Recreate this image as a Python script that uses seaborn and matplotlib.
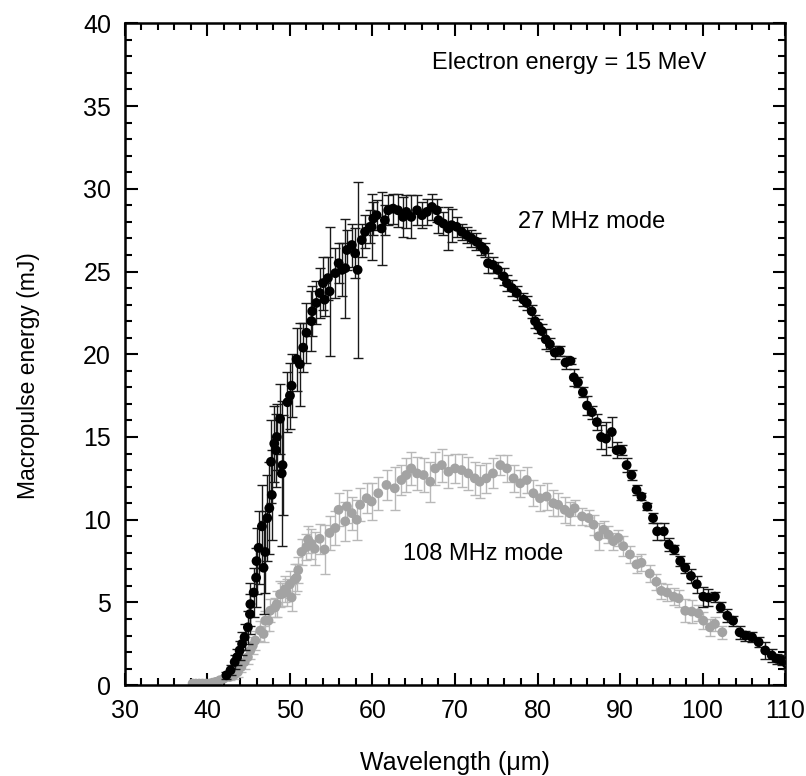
import numpy as np
import pandas as pd
import matplotlib
matplotlib.use("Agg")
from matplotlib import pyplot as plt
from matplotlib.ticker import MultipleLocator
import seaborn as sns

# 27 MHz mode (black)
wl_27 = [42.3, 42.8, 43.3, 43.6, 43.9, 44.2, 44.5, 44.9, 45.15, 45.2, 45.6, 45.9, 45.95, 46.2, 46.6,
         46.8, 47.0, 47.25, 47.5, 47.7, 47.8, 48.1, 48.3, 48.4, 48.8, 49.0, 49.1, 49.7, 50.0, 50.2,
         50.8, 51.2, 51.6, 52.0, 52.6, 52.7, 53.2, 53.6, 54.0, 54.2, 54.6, 54.8, 55.5, 55.9, 56.3,
         56.7, 56.9, 57.5, 57.9, 58.2, 58.7, 59.1, 59.7, 59.9, 60.1, 60.5, 61.1, 61.5, 61.9, 62.5,
         63.1, 63.7, 64.1, 64.7, 65.4, 66.0, 66.6, 67.2, 67.8, 68.0, 68.6, 69.2, 69.6, 70.2, 70.8,
         71.4, 72.0, 72.6, 73.2, 73.6, 74.0, 74.6, 75.2, 75.9, 76.3, 76.9, 77.5, 78.3, 78.7, 79.3,
         79.7, 80.1, 80.5, 81.0, 81.5, 82.1, 82.7, 83.4, 84.0, 84.4, 84.9, 85.5, 86.0, 86.6, 87.2,
         87.7, 88.3, 89.0, 89.6, 90.2, 90.8, 91.4, 92.0, 92.6, 93.3, 94.0, 94.5, 95.3, 95.9, 96.6,
         97.3, 97.9, 98.6, 99.3, 100.1, 100.7, 101.5, 102.2, 103.0, 103.7, 104.5, 105.2, 106.0, 106.8, 107.6,
         108.4, 109.0, 109.6, 110.2]
en_27 = [0.6, 0.9, 1.4, 1.7, 2.1, 2.5, 2.9, 3.5, 4.3, 4.9, 5.6, 6.5, 7.5, 8.3, 9.6,
         7.1, 8.05, 10.1, 10.7, 13.5, 11.5, 14.6, 14.2, 15.0, 16.1, 12.8, 13.3, 17.1, 17.5, 18.1,
         19.7, 19.4, 20.4, 21.3, 22.0, 22.6, 23.1, 23.7, 24.3, 23.3, 24.6, 23.8, 24.9, 25.5, 25.1,
         25.2, 26.3, 26.6, 26.1, 25.1, 26.9, 27.4, 27.7, 27.7, 28.2, 28.4, 27.6, 28.1, 28.7, 28.8,
         28.7, 28.3, 28.6, 28.3, 28.7, 28.4, 28.6, 28.9, 28.7, 28.1, 27.9, 27.6, 27.8, 27.7, 27.4,
         27.2, 27.0, 26.8, 26.5, 26.3, 25.5, 25.4, 25.1, 24.7, 24.3, 24.0, 23.7, 23.3, 23.1, 22.6,
         22.0, 21.7, 21.4, 20.9, 20.6, 20.1, 20.2, 19.5, 19.6, 18.6, 18.3, 17.7, 16.9, 16.5, 15.9,
         15.0, 14.9, 15.3, 14.2, 14.2, 13.3, 12.7, 11.8, 11.4, 10.8, 10.1, 9.3, 9.3, 8.5, 8.2,
         7.5, 7.1, 6.6, 6.1, 5.35, 5.3, 5.35, 4.7, 4.2, 3.9, 3.2, 3.0, 2.9, 2.6, 2.1,
         1.8, 1.6, 1.5, 1.3]
err_27 = [0.2, 0.3, 0.4, 0.5, 0.6, 0.7, 0.8, 1.0, 1.2, 1.3, 1.5, 1.8, 2.0, 2.2, 2.5,
          2.8, 2.5, 2.6, 2.8, 2.5, 2.7, 2.3, 2.2, 2.0, 2.1, 4.4, 3.0, 1.8, 2.0, 1.9,
          1.9, 2.5, 1.5, 1.8, 1.8, 1.5, 1.3, 1.5, 1.6, 1.0, 1.3, 3.9, 1.5, 1.2, 1.6,
          3.0, 1.2, 1.3, 1.5, 5.3, 1.0, 1.0, 1.0, 2.0, 1.0, 0.9, 2.2, 0.9, 0.9, 0.9,
          1.0, 1.2, 1.0, 1.3, 0.9, 0.8, 0.8, 0.8, 0.7, 0.8, 0.7, 1.3, 1.0, 0.6, 0.5,
          0.5, 0.5, 0.5, 0.5, 0.4, 0.6, 0.5, 0.5, 0.5, 0.5, 0.5, 0.4, 0.4, 0.4, 0.4,
          0.4, 0.4, 0.4, 0.6, 0.4, 0.4, 0.3, 0.4, 0.2, 0.5, 0.3, 0.3, 0.6, 0.4, 0.5,
          0.7, 1.0, 0.9, 0.5, 0.3, 0.4, 0.3, 0.3, 0.2, 0.2, 0.3, 0.5, 0.5, 0.4, 0.3,
          0.3, 0.3, 0.4, 0.5, 0.6, 0.5, 0.3, 0.3, 0.4, 0.3, 0.4, 0.3, 0.3, 0.3, 0.5,
          0.4, 0.3, 0.3, 0.3]

# 108 MHz mode (grey)
wl_108 = [38.2, 38.6, 39.0, 39.4, 39.8, 40.2, 40.6, 41.0, 41.5, 42.0, 42.7, 43.2, 43.7, 44.1, 44.5,
          44.9, 45.2, 45.5, 45.8, 46.4, 46.8, 47.0, 47.4, 47.6, 48.2, 48.4, 48.8, 49.0, 49.4, 49.6,
          50.0, 50.2, 50.6, 50.8, 51.0, 51.4, 52.0, 52.2, 52.6, 53.0, 53.6, 54.2, 54.8, 55.5, 55.9,
          56.7, 56.9, 57.5, 58.1, 58.5, 59.3, 59.9, 60.7, 61.7, 62.7, 63.5, 64.1, 64.7, 65.4, 66.2,
          67.0, 67.6, 68.4, 69.2, 70.0, 70.8, 71.6, 72.4, 73.0, 73.8, 74.6, 75.5, 76.3, 77.1, 77.9,
          78.7, 79.5, 80.3, 81.1, 81.9, 82.5, 83.3, 83.9, 84.5, 85.4, 86.2, 86.8, 87.4, 88.0, 88.6,
          89.2, 89.8, 90.4, 91.2, 92.0, 92.6, 93.6, 94.4, 95.0, 95.7, 96.5, 97.1, 97.9, 98.7, 99.5,
          100.1, 100.9, 101.5, 102.4]
en_108 = [0.1, 0.1, 0.1, 0.1, 0.1, 0.1, 0.15, 0.2, 0.3, 0.4, 0.5, 0.6, 0.8, 1.1, 1.4,
          1.7, 2.1, 2.4, 2.7, 3.3, 3.1, 3.9, 3.9, 4.5, 4.7, 4.9, 5.5, 5.5, 5.8, 5.6,
          6.1, 5.3, 6.4, 6.5, 6.95, 8.05, 8.35, 8.8, 8.55, 8.25, 8.85, 8.2, 9.2, 9.5, 10.6,
          9.9, 10.8, 10.4, 10.0, 10.9, 11.3, 11.1, 11.6, 12.1, 11.9, 12.4, 12.7, 13.1, 12.8, 12.7,
          12.3, 13.1, 13.3, 12.9, 13.1, 13.0, 12.8, 12.5, 12.3, 12.5, 12.8, 13.3, 13.1, 12.5, 12.2,
          12.4, 11.6, 11.3, 11.4, 11.0, 10.9, 10.6, 10.4, 10.7, 10.2, 10.1, 9.7, 9.0, 9.4, 9.1,
          8.7, 8.9, 8.4, 7.9, 7.3, 7.4, 6.75, 6.25, 5.7, 5.6, 5.35, 5.25, 4.5, 4.45, 4.35,
          3.9, 3.5, 3.7, 3.2]
err_108 = [0, 0, 0, 0, 0, 0, 0, 0.1, 0.1, 0.1, 0.2, 0.2, 0.3, 0.3, 0.4,
           0.4, 0.5, 0.5, 0.6, 0.6, 0.5, 0.6, 0.6, 0.7, 0.6, 0.8, 0.8, 0.7, 0.8, 0.8,
           0.8, 0.8, 0.9, 0.8, 0.8, 0.8, 0.8, 0.8, 0.9, 1.0, 0.9, 1.5, 1.0, 1.0, 1.0,
           1.2, 1.0, 1.0, 1.2, 1.0, 0.9, 1.1, 1.0, 0.9, 1.3, 0.9, 1.0, 1.0, 1.0, 1.0,
           1.2, 1.0, 1.0, 1.0, 0.9, 1.0, 1.0, 1.0, 1.0, 0.9, 0.9, 0.6, 0.8, 0.8, 0.8,
           0.8, 0.8, 0.8, 0.8, 0.8, 0.7, 0.8, 0.7, 0.5, 0.5, 0.5, 0.6, 0.8, 0.5, 0.5,
           0.5, 0.5, 0.6, 0.5, 0.5, 0.5, 0.5, 0.5, 0.5, 0.5, 0.5, 0.5, 0.7, 0.7, 0.5,
           0.5, 0.5, 0.4, 0.4]

df27 = pd.DataFrame({'wl': wl_27, 'E': en_27, 'err': err_27})
df108 = pd.DataFrame({'wl': wl_108, 'E': en_108, 'err': err_108})

sns.set_style("ticks")
plt.rcParams['font.family'] = ['Liberation Sans', 'DejaVu Sans']
plt.rcParams['text.color'] = 'black'
plt.rcParams['axes.labelcolor'] = 'black'
plt.rcParams['xtick.color'] = 'black'
plt.rcParams['ytick.color'] = 'black'

fig = plt.figure(figsize=(8.06, 7.76), dpi=100)
ax = fig.add_axes([0.155, 0.117, 0.819, 0.853])

grey = '#a3a3a3'
ax.errorbar(df108.wl, df108.E, yerr=df108.err, fmt='none', ecolor='#b8b8b8',
            elinewidth=1.0, capsize=3.5, capthick=1.0, zorder=1)
sns.scatterplot(data=df108, x='wl', y='E', color=grey, s=50, edgecolor='none', ax=ax, zorder=2)
ax.errorbar(df27.wl, df27.E, yerr=df27.err, fmt='none', ecolor='#1a1a1a',
            elinewidth=1.0, capsize=3.5, capthick=1.0, zorder=3)
sns.scatterplot(data=df27, x='wl', y='E', color='black', s=50, edgecolor='none', ax=ax, zorder=4)

ax.set_xlim(30, 110)
ax.set_ylim(0, 40)
ax.xaxis.set_major_locator(MultipleLocator(10))
ax.xaxis.set_minor_locator(MultipleLocator(2))
ax.yaxis.set_major_locator(MultipleLocator(5))
ax.yaxis.set_minor_locator(MultipleLocator(1))
ax.tick_params(which='both', direction='in', top=True, right=True, labelsize=18)
ax.tick_params(which='major', length=9, width=1.5, pad=10)
ax.tick_params(which='minor', length=5, width=1.5)
for sp in ax.spines.values():
    sp.set_linewidth(1.8)
    sp.set_color('black')

ax.set_xlabel('Wavelength (μm)', fontsize=18, labelpad=20)
ax.set_ylabel('Macropulse energy (mJ)', fontsize=16.5)
ax.yaxis.set_label_coords(-0.128, 0.467)

ax.text(83.9, 37.6, 'Electron energy = 15 MeV', fontsize=17, ha='center', va='center')
ax.text(86.5, 28.0, '27 MHz mode', fontsize=17, ha='center', va='center')
ax.text(73.4, 7.9, '108 MHz mode', fontsize=17, ha='center', va='center')

fig.savefig('out.png', dpi=100)
